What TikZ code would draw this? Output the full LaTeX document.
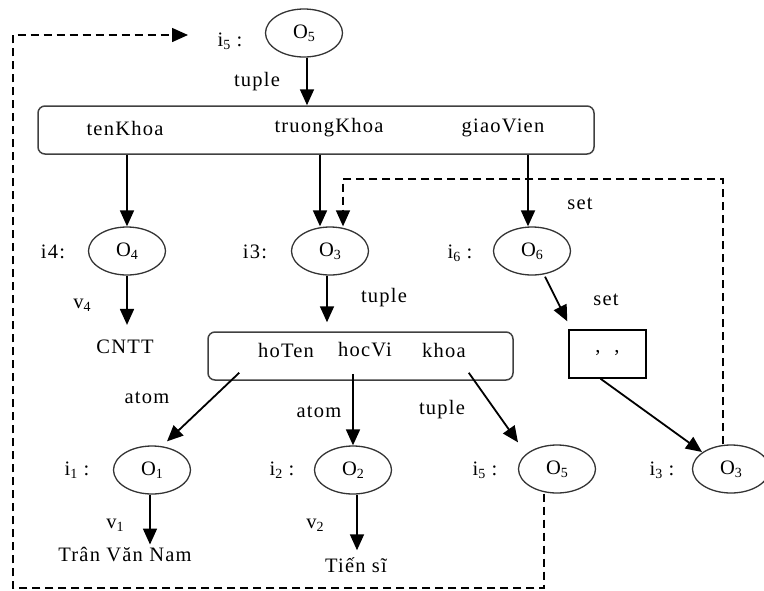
\documentclass[tikz,border=0pt]{standalone}
\usepackage{fontspec}
\setmainfont{Liberation Serif}[LetterSpace=6]
\usetikzlibrary{shapes.geometric,arrows.meta}
\newcommand\subdig[1]{\raisebox{-0.35ex}{\fontsize{14}{14}\selectfont #1}}
\tikzset{
  every node/.style={font=\fontsize{20.5}{24}\selectfont, inner sep=1pt},
  obj/.style={ellipse, draw=black!80, line width=1.3pt, minimum width=77pt, minimum height=48pt, inner sep=0pt},
  rbox/.style={draw=black!75, line width=1.5pt, rounded corners=7pt, inner sep=0pt},
  sbox/.style={draw=black, line width=1.4pt, inner sep=0pt, minimum width=77pt, minimum height=48pt},
  arr/.style={line width=1.8pt, -{Triangle[length=16pt,width=14pt]}},
  dline/.style={line width=1.5pt, dash pattern=on 8pt off 5pt},
}
\begin{document}
\begin{tikzpicture}[x=1pt,y=-1pt]
\useasboundingbox (0,0) rectangle (764,590);
% top object
\node[obj] (o5t) at (304,33) {O\subdig{5}};
\node (i5t) at (230,41) {i\subdig{5} :};
\node (tup1) at (257,82) {tuple};
% big tuple box
\node[rbox, minimum width=556pt, minimum height=48pt] (bigbox) at (316,130) {};
\node (tenKhoa) at (125,128) {tenKhoa};
\node (truongKhoa) at (329,128) {truongKhoa};
\node (giaoVien) at (503,128) {giaoVien};
% second level
\node[obj] (o4) at (127,251) {O\subdig{4}};
\node[obj] (o3) at (330,251) {O\subdig{3}};
\node[obj] (o6) at (532,251) {O\subdig{6}};
\node (i4) at (53,252) {i4:};
\node (i3) at (255,252) {i3:};
\node (i6) at (460,253) {i\subdig{6} :};
\node (set1) at (580,204) {set};
\node (set2) at (606,300) {set};
\node (v4) at (82,305) {v\subdig{4}};
\node (cntt) at (125,347) {CNTT};
\node (tup2) at (384,298) {tuple};
% hoTen box
\node[rbox, minimum width=305pt, minimum height=48pt] (box2) at (360.5,356) {};
\node (hoTen) at (286,350) {hoTen};
\node (hocVi) at (365,350) {hocVi};
\node (khoa) at (444,350) {khoa};
% set box
\node[sbox] (sbox) at (607.5,354) {\raisebox{5pt}{,\hspace{14pt},}};
% labels
\node (atom1) at (147,398) {atom};
\node (atom2) at (319,412) {atom};
\node (tup3) at (442,410) {tuple};
% bottom objects
\node[obj] (o1) at (152,470) {O\subdig{1}};
\node[obj] (o2) at (353,470) {O\subdig{2}};
\node[obj] (o5b) at (557,469) {O\subdig{5}};
\node[obj] (o3b) at (731,469) {O\subdig{3}};
\node (i1) at (77,470) {i\subdig{1} :};
\node (i2) at (282,470) {i\subdig{2} :};
\node (i5b) at (485,470) {i\subdig{5} :};
\node (i3b) at (662,470) {i\subdig{3} :};
\node (v1) at (115,525) {v\subdig{1}};
\node (v2) at (315,525) {v\subdig{2}};
\node (tvn) at (125,555) {Trân Văn Nam};
\node (ts) at (356,565) {Tiến sĩ};
% helper coordinates
\coordinate (t3) at ([xshift=-10pt]o3.north);
\coordinate (t6) at ([xshift=-4pt]o6.north);
\coordinate (t3d) at ([xshift=13pt]o3.north);
\coordinate (q1) at ([xshift=-8pt]o3b.north);
\coordinate (qy) at (0,179);
\coordinate (s5) at ([xshift=-13pt]o5b.south);
\coordinate (cbl) at (13,588);
\coordinate (ctl) at (13,35);
\coordinate (dtip) at (188,35);
\coordinate (a1s) at ([xshift=32pt,yshift=8pt]box2.south west);
\coordinate (a1e) at ([xshift=15pt,yshift=4pt]o1.north);
\coordinate (a3s) at ([xshift=-45pt,yshift=8pt]box2.south east);
\coordinate (a3e) at ([xshift=-39pt,yshift=2pt]o5b.north);
\coordinate (a4s) at ([xshift=-7pt]sbox.south);
\coordinate (a4e) at ([xshift=-29pt,yshift=17pt]o3b.center);
\coordinate (a5s) at ([xshift=13pt,yshift=-1pt]o6.south);
\coordinate (a5e) at ([xshift=-1pt,yshift=8pt]sbox.north west);
% solid arrows
\draw[arr] ([xshift=3pt]o5t.south) -- ([xshift=3pt]o5t.south |- bigbox.north);
\draw[arr] (o4.north |- bigbox.south) -- (o4.north);
\draw[arr] (t3 |- bigbox.south) -- (t3);
\draw[arr] (t6 |- bigbox.south) -- (t6);
\draw[arr, shorten >=14pt] (o4.south) -- (o4.south |- cntt.north);
\draw[arr, shorten >=9pt] ([xshift=-3pt]o3.south) -- ([xshift=-3pt]o3.south |- box2.north);
\draw[arr] (a5s) -- (a5e);
\draw[arr] (a1s) -- (a1e);
\draw[arr] ([yshift=7pt]o2.north |- box2.south) -- (o2.north);
\draw[arr] (a3s) -- (a3e);
\draw[arr] (a4s) -- (a4e);
\draw[arr, shorten >=2pt] ([xshift=-2pt]o1.south) -- ([xshift=-2pt]o1.south |- tvn.north);
\draw[arr, shorten >=6pt] ([xshift=4pt]o2.south) -- ([xshift=4pt]o2.south |- ts.north);
% dashed connectors
\draw[dline, arr, line width=1.5pt] (q1) -- (q1 |- qy) -- (t3d |- qy) -- (t3d);
\draw[dline, arr, line width=1.5pt] (s5) -- (s5 |- cbl) -- (cbl) -- (ctl) -- (dtip);
\end{tikzpicture}
\end{document}
